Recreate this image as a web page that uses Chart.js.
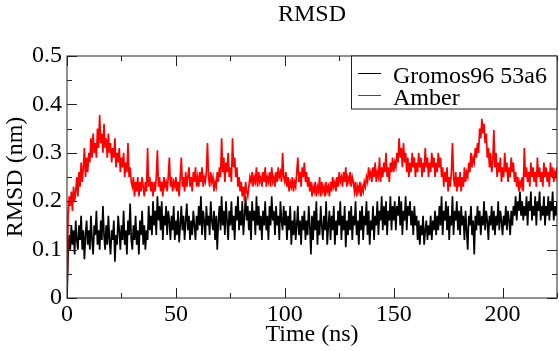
<!DOCTYPE html>
<html>
<head>
<meta charset="utf-8">
<script src="https://cdn.jsdelivr.net/npm/chart.js@4/dist/chart.umd.min.js"></script>
<style>
  html, body { margin: 0; padding: 0; background: #fff; }
  #wrap { width: 559px; height: 351px; }
</style>
</head>
<body>
<div id="wrap"><canvas id="rmsdChart" width="559" height="351"></canvas></div>
<script>
// ---- Data (nm), sampled every 0.5 ns from 0 to 225 ns ----
const dt = 0.5;
const seriesNames = ['Gromos96 53a6', 'Amber'];
const seriesColors = ['#000000', '#ff0000'];
const xTicks = [0, 50, 100, 150, 200];
const yTicks = [0, 0.1, 0.2, 0.3, 0.4, 0.5];

const gromos = [
  0, 0.09, 0.13, 0.10, 0.15, 0.11, 0.14, 0.09, 0.16, 0.12, 0.10, 0.15, 0.12, 0.17, 0.10, 0.14, 0.08, 0.13, 0.16, 0.11,
  0.14, 0.10, 0.17, 0.12, 0.09, 0.15, 0.13, 0.18, 0.11, 0.14, 0.10, 0.16, 0.12, 0.19, 0.13, 0.10, 0.15, 0.11, 0.17, 0.12,
  0.09, 0.14, 0.12, 0.16, 0.075, 0.13, 0.11, 0.17, 0.14, 0.10, 0.15, 0.12, 0.18, 0.11, 0.14, 0.09, 0.16, 0.13, 0.195, 0.12,
  0.10, 0.15, 0.12, 0.17, 0.11, 0.14, 0.09, 0.16, 0.13, 0.18, 0.11, 0.15, 0.10, 0.14, 0.12, 0.19, 0.14, 0.17, 0.13, 0.20,
  0.15, 0.18, 0.13, 0.21, 0.16, 0.19, 0.14, 0.20, 0.12, 0.17, 0.15, 0.19, 0.13, 0.18, 0.16, 0.12, 0.17, 0.14, 0.19, 0.12,
  0.16, 0.13, 0.18, 0.115, 0.15, 0.19, 0.14, 0.17, 0.12, 0.16, 0.195, 0.14, 0.17, 0.12, 0.16, 0.13, 0.18, 0.15, 0.12, 0.17,
  0.14, 0.19, 0.15, 0.21, 0.13, 0.18, 0.16, 0.12, 0.19, 0.15, 0.17, 0.13, 0.20, 0.16, 0.14, 0.18, 0.12, 0.17, 0.10, 0.16,
  0.19, 0.14, 0.21, 0.15, 0.18, 0.13, 0.20, 0.16, 0.12, 0.18, 0.15, 0.20, 0.14, 0.17, 0.12, 0.19, 0.16, 0.21, 0.14, 0.18,
  0.15, 0.20, 0.13, 0.17, 0.21, 0.16, 0.19, 0.14, 0.18, 0.12, 0.20, 0.16, 0.18, 0.13, 0.21, 0.15, 0.19, 0.14, 0.17, 0.12,
  0.18, 0.15, 0.20, 0.14, 0.17, 0.12, 0.19, 0.15, 0.21, 0.16, 0.18, 0.13, 0.19, 0.15, 0.17, 0.12, 0.20, 0.16, 0.14, 0.19,
  0.15, 0.18, 0.12, 0.17, 0.14, 0.19, 0.11, 0.16, 0.13, 0.18, 0.12, 0.15, 0.19, 0.13, 0.16, 0.11, 0.17, 0.14, 0.18, 0.12,
  0.16, 0.13, 0.19, 0.15, 0.09, 0.17, 0.12, 0.18, 0.14, 0.20, 0.11, 0.16, 0.13, 0.19, 0.15, 0.12, 0.17, 0.14, 0.20, 0.11,
  0.15, 0.18, 0.12, 0.17, 0.14, 0.19, 0.11, 0.16, 0.13, 0.18, 0.15, 0.20, 0.12, 0.17, 0.14, 0.19, 0.105, 0.16, 0.13, 0.18,
  0.14, 0.19, 0.12, 0.17, 0.15, 0.20, 0.13, 0.16, 0.11, 0.18, 0.14, 0.19, 0.12, 0.17, 0.15, 0.20, 0.13, 0.18, 0.11, 0.16,
  0.14, 0.19, 0.12, 0.17, 0.15, 0.20, 0.13, 0.18, 0.16, 0.21, 0.14, 0.19, 0.15, 0.20, 0.13, 0.18, 0.16, 0.21, 0.14, 0.19,
  0.16, 0.20, 0.14, 0.19, 0.17, 0.21, 0.15, 0.20, 0.13, 0.18, 0.16, 0.21, 0.14, 0.19, 0.17, 0.20, 0.15, 0.18, 0.13, 0.19,
  0.15, 0.17, 0.12, 0.16, 0.11, 0.15, 0.13, 0.17, 0.11, 0.14, 0.16, 0.12, 0.15, 0.13, 0.17, 0.12, 0.16, 0.14, 0.18, 0.13,
  0.17, 0.14, 0.19, 0.15, 0.21, 0.13, 0.18, 0.16, 0.20, 0.14, 0.19, 0.12, 0.17, 0.15, 0.21, 0.13, 0.18, 0.16, 0.20, 0.14,
  0.18, 0.13, 0.19, 0.15, 0.17, 0.12, 0.18, 0.14, 0.10, 0.17, 0.15, 0.19, 0.13, 0.16, 0.09, 0.17, 0.14, 0.19, 0.15, 0.18,
  0.13, 0.17, 0.15, 0.20, 0.14, 0.18, 0.16, 0.12, 0.17, 0.15, 0.19, 0.14, 0.18, 0.13, 0.17, 0.15, 0.20, 0.14, 0.18, 0.16,
  0.13, 0.17, 0.15, 0.19, 0.14, 0.18, 0.16, 0.13, 0.18, 0.15, 0.19, 0.17, 0.21, 0.16, 0.20, 0.18, 0.22, 0.17, 0.20, 0.16,
  0.19, 0.17, 0.21, 0.15, 0.20, 0.18, 0.22, 0.16, 0.19, 0.17, 0.21, 0.15, 0.20, 0.18, 0.22, 0.16, 0.19, 0.17, 0.21, 0.15,
  0.19, 0.17, 0.21, 0.16, 0.20, 0.18, 0.22, 0.16, 0.19, 0.17, 0.20
];

const amber = [
  0, 0.17, 0.21, 0.19, 0.22, 0.18, 0.23, 0.20, 0.22, 0.25, 0.21, 0.26, 0.23, 0.28, 0.24, 0.27, 0.31, 0.25, 0.29, 0.26,
  0.30, 0.28, 0.33, 0.29, 0.34, 0.30, 0.32, 0.29, 0.35, 0.31, 0.378, 0.32, 0.34, 0.30, 0.36, 0.31, 0.33, 0.29, 0.34, 0.30,
  0.32, 0.28, 0.31, 0.29, 0.33, 0.27, 0.30, 0.28, 0.31, 0.26, 0.29, 0.27, 0.30, 0.25, 0.28, 0.26, 0.32, 0.25, 0.27, 0.24,
  0.23, 0.25, 0.21, 0.24, 0.22, 0.25, 0.21, 0.24, 0.22, 0.25, 0.23, 0.21, 0.24, 0.22, 0.31, 0.23, 0.25, 0.22, 0.24, 0.21,
  0.24, 0.22, 0.25, 0.305, 0.23, 0.25, 0.22, 0.24, 0.21, 0.25, 0.23, 0.24, 0.22, 0.25, 0.29, 0.23, 0.25, 0.22, 0.24, 0.23,
  0.25, 0.22, 0.24, 0.21, 0.25, 0.29, 0.23, 0.25, 0.22, 0.26, 0.23, 0.25, 0.27, 0.23, 0.25, 0.22, 0.26, 0.24, 0.27, 0.23,
  0.25, 0.23, 0.26, 0.24, 0.27, 0.23, 0.25, 0.24, 0.26, 0.32, 0.25, 0.23, 0.26, 0.24, 0.25, 0.22, 0.24, 0.23, 0.26, 0.24,
  0.27, 0.25, 0.33, 0.26, 0.29, 0.24, 0.28, 0.26, 0.30, 0.25, 0.27, 0.24, 0.33, 0.27, 0.29, 0.25, 0.27, 0.23, 0.25, 0.22,
  0.24, 0.21, 0.23, 0.20, 0.24, 0.22, 0.21, 0.23, 0.25, 0.24, 0.26, 0.23, 0.25, 0.24, 0.27, 0.23, 0.26, 0.24, 0.25, 0.23,
  0.26, 0.24, 0.27, 0.23, 0.25, 0.24, 0.26, 0.23, 0.27, 0.24, 0.25, 0.23, 0.26, 0.24, 0.27, 0.25, 0.26, 0.24, 0.30, 0.25,
  0.24, 0.26, 0.23, 0.25, 0.22, 0.24, 0.23, 0.25, 0.22, 0.24, 0.23, 0.26, 0.29, 0.24, 0.26, 0.23, 0.27, 0.25, 0.28, 0.24,
  0.26, 0.23, 0.25, 0.22, 0.24, 0.21, 0.23, 0.22, 0.24, 0.21, 0.23, 0.22, 0.25, 0.21, 0.24, 0.22, 0.23, 0.21, 0.24, 0.22,
  0.23, 0.21, 0.24, 0.22, 0.25, 0.23, 0.24, 0.22, 0.25, 0.23, 0.26, 0.24, 0.25, 0.23, 0.26, 0.24, 0.27, 0.23, 0.25, 0.24,
  0.26, 0.23, 0.25, 0.24, 0.22, 0.24, 0.21, 0.23, 0.22, 0.24, 0.21, 0.23, 0.22, 0.24, 0.23, 0.25, 0.24, 0.27, 0.25, 0.26,
  0.24, 0.27, 0.25, 0.28, 0.24, 0.26, 0.25, 0.29, 0.24, 0.27, 0.25, 0.28, 0.26, 0.30, 0.25, 0.27, 0.24, 0.28, 0.26, 0.29,
  0.26, 0.28, 0.27, 0.30, 0.28, 0.33, 0.29, 0.31, 0.27, 0.32, 0.28, 0.30, 0.26, 0.29, 0.25, 0.28, 0.26, 0.30, 0.27, 0.29,
  0.25, 0.28, 0.26, 0.30, 0.27, 0.29, 0.25, 0.28, 0.26, 0.31, 0.27, 0.29, 0.25, 0.28, 0.26, 0.30, 0.27, 0.29, 0.25, 0.28,
  0.26, 0.30, 0.27, 0.29, 0.25, 0.27, 0.23, 0.26, 0.24, 0.27, 0.22, 0.25, 0.23, 0.26, 0.32, 0.25, 0.23, 0.26, 0.22, 0.25,
  0.23, 0.26, 0.22, 0.25, 0.23, 0.27, 0.24, 0.26, 0.25, 0.28, 0.26, 0.30, 0.27, 0.29, 0.28, 0.31, 0.29, 0.32, 0.30, 0.35,
  0.33, 0.37, 0.34, 0.36, 0.32, 0.34, 0.29, 0.31, 0.27, 0.30, 0.26, 0.28, 0.347, 0.27, 0.30, 0.25, 0.28, 0.26, 0.29, 0.24,
  0.27, 0.25, 0.30, 0.26, 0.28, 0.24, 0.27, 0.25, 0.29, 0.26, 0.28, 0.24, 0.26, 0.23, 0.25, 0.22, 0.24, 0.23, 0.25, 0.22,
  0.31, 0.25, 0.27, 0.24, 0.26, 0.23, 0.28, 0.25, 0.27, 0.24, 0.26, 0.23, 0.29, 0.25, 0.27, 0.24, 0.26, 0.23, 0.28, 0.25,
  0.27, 0.24, 0.26, 0.23, 0.28, 0.25, 0.27, 0.24, 0.26, 0.25, 0.27
];

const serif = '"Liberation Serif", "Times New Roman", serif';
const toPoints = arr => arr.map((v, i) => ({ x: i * dt, y: v }));

// ---- Frame, inward ticks, titles and boxed legend (xmgrace look) ----
const gracePlugin = {
  id: 'grace',
  afterDraw(chart) {
    const { ctx, chartArea: a, scales } = chart;
    const xs = scales.x, ys = scales.y;
    ctx.save();
    ctx.strokeStyle = '#222';
    ctx.lineWidth = 1;
    ctx.strokeRect(a.left, a.top, a.right - a.left, a.bottom - a.top);

    ctx.beginPath();
    for (let t = 0; t <= 225; t += 25) {
      const px = Math.round(xs.getPixelForValue(t)) + 0.5;
      const len = t % 50 === 0 ? 10 : 5;
      ctx.moveTo(px, a.bottom); ctx.lineTo(px, a.bottom - len);
      ctx.moveTo(px, a.top); ctx.lineTo(px, a.top + len);
    }
    for (let k = 0; k <= 10; k++) {
      const py = Math.round(ys.getPixelForValue(k * 0.05)) + 0.5;
      const len = k % 2 === 0 ? 10 : 5;
      ctx.moveTo(a.left, py); ctx.lineTo(a.left + len, py);
      ctx.moveTo(a.right, py); ctx.lineTo(a.right - len, py);
    }
    ctx.stroke();

    // titles
    ctx.fillStyle = '#000';
    ctx.font = '24px ' + serif;
    ctx.textAlign = 'center';
    ctx.textBaseline = 'alphabetic';
    const cx = (a.left + a.right) / 2;
    ctx.fillText('RMSD', cx, 21);
    ctx.fillText('Time (ns)', cx, 341);
    ctx.save();
    ctx.translate(22, (a.top + a.bottom) / 2);
    ctx.rotate(-Math.PI / 2);
    ctx.fillText('RMSD (nm)', 0, 0);
    ctx.restore();

    // legend box
    const bx = 351.5, by = a.top, bw = a.right - 351.5, bh = 53;
    ctx.fillStyle = '#fff';
    ctx.fillRect(bx, by, bw, bh);
    ctx.strokeStyle = '#222';
    ctx.strokeRect(bx, by, bw, bh);
    ctx.textAlign = 'left';
    chart.data.datasets.forEach((ds, i) => {
      const ly = by + 17 + i * 22;
      ctx.strokeStyle = ds.borderColor;
      ctx.lineWidth = 1;
      ctx.beginPath();
      ctx.moveTo(358, ly + 0.5); ctx.lineTo(381, ly + 0.5);
      ctx.stroke();
      ctx.fillStyle = '#000';
      ctx.fillText(ds.label, 393, ly + 10);
    });
    ctx.restore();
  }
};

new Chart(document.getElementById('rmsdChart'), {
  type: 'line',
  data: {
    datasets: [
      { label: seriesNames[0], data: toPoints(gromos), borderColor: seriesColors[0], borderWidth: 1.7, pointRadius: 0, order: 1 },
      { label: seriesNames[1], data: toPoints(amber), borderColor: seriesColors[1], borderWidth: 1.7, pointRadius: 0, order: 0 }
    ]
  },
  options: {
    responsive: false, animation: false,
    layout: { padding: { top: 56, right: 2, left: 0, bottom: 0 } },
    plugins: { legend: { display: false }, tooltip: { enabled: false }, title: { display: false } },
    scales: {
      x: {
        type: 'linear', min: 0, max: 225,
        afterFit: s => { s.height = 53; },
        afterBuildTicks: s => { s.ticks = xTicks.map(v => ({ value: v })); },
        grid: { display: false, drawTicks: false },
        border: { display: false },
        ticks: { color: '#000', font: { family: serif, size: 24 }, padding: 2, maxRotation: 0 }
      },
      y: {
        min: 0, max: 0.5,
        afterFit: s => { s.width = 67; },
        afterBuildTicks: s => { s.ticks = yTicks.map(v => ({ value: v })); },
        grid: { display: false, drawTicks: false },
        border: { display: false },
        ticks: { color: '#000', font: { family: serif, size: 24 }, padding: 5 }
      }
    }
  },
  plugins: [gracePlugin]
});
</script>
</body>
</html>
